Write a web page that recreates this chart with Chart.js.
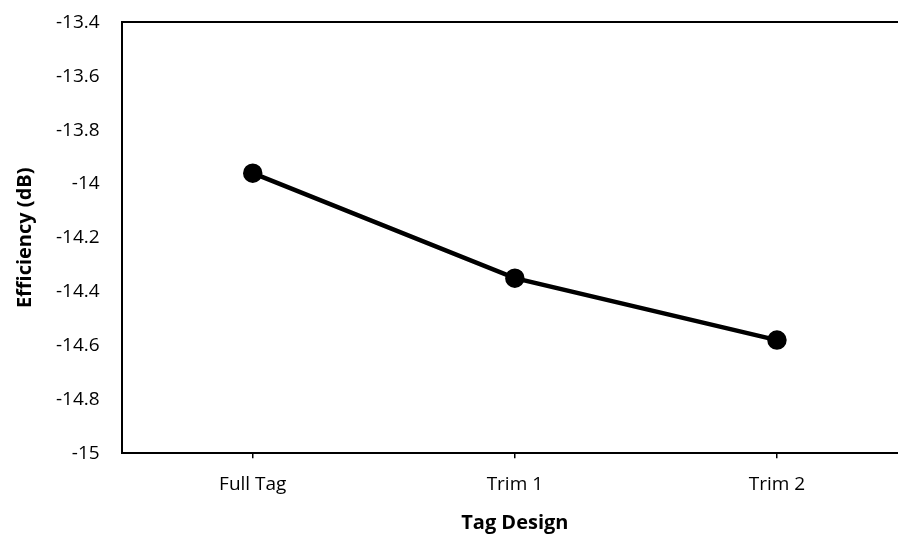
<!DOCTYPE html>
<html>
<head>
<meta charset="utf-8">
<script src="https://cdn.jsdelivr.net/npm/chart.js@4/dist/chart.umd.min.js"></script>
<style>
html,body{margin:0;padding:0;background:#fff;overflow:hidden;width:898px;height:536px;}
#c{display:block;margin-top:-3px;}
</style>
</head>
<body>
<canvas id="c" width="920" height="539"></canvas>
<script>
const categories = ["Full Tag", "Trim 1", "Trim 2"];
const efficiency = [-13.96, -14.35, -14.58];
const yMin = -15, yMax = -13.4, yStep = 0.2;

const font = "'Open Sans', 'Liberation Sans', sans-serif";
new Chart(document.getElementById('c'), {
  type: 'line',
  data: {
    labels: categories,
    datasets: [{
      data: efficiency,
      borderColor: '#000',
      backgroundColor: '#000',
      borderWidth: 4.5,
      pointRadius: 7.5,
      pointHoverRadius: 7.5,
      tension: 0
    }]
  },
  options: {
    responsive: false,
    animation: false,
    layout: { padding: { top: -11, right: 0, bottom: -3, left: 9 } },
    plugins: { legend: { display: false }, tooltip: { enabled: false } },
    scales: {
      x: {
        offset: true,
        grid: { display: true, drawOnChartArea: false, drawTicks: true, tickLength: 5, offset: false, color: '#000', lineWidth: 1.5 },
        border: { display: true, color: '#000', width: 2 },
        ticks: { color: '#000', font: { family: font, size: 19 }, padding: 15 },
        title: { display: true, text: 'Tag Design', color: '#000', font: { family: font, size: 20, weight: 'bold' }, padding: { top: 0 } }
      },
      x2: {
        position: 'top',
        type: 'category',
        labels: categories,
        grid: { display: false },
        border: { display: true, color: '#000', width: 2 },
        ticks: { display: false }
      },
      y: {
        min: yMin, max: yMax,
        grid: { display: false },
        border: { display: true, color: '#000', width: 2 },
        ticks: { stepSize: yStep, color: '#000', font: { family: font, size: 19 }, padding: 14,
          callback: v => String(Math.round(v * 10) / 10) },
        title: { display: true, text: 'Efficiency (dB)', color: '#000', font: { family: font, size: 20, weight: 'bold' }, padding: { bottom: 5 } }
      }
    }
  }
});
</script>
</body>
</html>
